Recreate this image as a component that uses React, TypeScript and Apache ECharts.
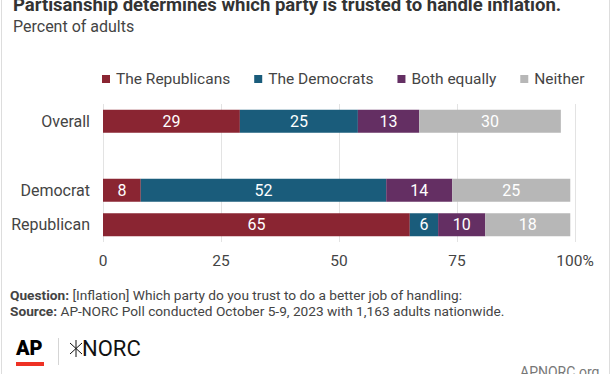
import React, { useEffect, useRef } from "react";
import * as echarts from "echarts";

const categories = ["Overall", "", "Democrat", "Republican"];
const seriesNames = ["The Republicans", "The Democrats", "Both equally", "Neither"];
const republicans: (number | string)[] = [29, "-", 8, 65];
const democrats: (number | string)[] = [25, "-", 52, 6];
const bothEqually: (number | string)[] = [13, "-", 14, 10];
const neither: (number | string)[] = [30, "-", 25, 18];
const tickValues = [0, 25, 50, 75, 100];
const colors = ["#8A2532", "#1A5C7B", "#642F63", "#B7B7B7"];

const FONT = "Roboto, 'Noto Sans', sans-serif";

export default function App() {
  const ref = useRef<HTMLDivElement>(null);
  useEffect(() => {
    document.body.style.margin = "0";
    if (!ref.current) return;
    const chart = echarts.init(ref.current, undefined, { renderer: "svg" });
    const values = [republicans, democrats, bothEqually, neither];
    chart.setOption({
      animation: false,
      textStyle: { fontFamily: FONT },
      grid: { left: 103, right: 37, top: 104, bottom: 132, containLabel: false },
      legend: {
        data: seriesNames,
        left: 97,
        top: 66,
        itemWidth: 8,
        itemHeight: 8,
        itemGap: 24,
        icon: "rect",
        textStyle: { color: "#444", fontSize: 15.5, fontFamily: FONT, padding: [0, 0, 0, 1] },
      },
      xAxis: {
        type: "value",
        min: 0,
        max: 100,
        interval: 25,
        axisLine: { show: false },
        axisTick: { show: false },
        splitLine: { show: true, lineStyle: { color: "#E3E3E3", width: 1 } },
        axisLabel: {
          color: "#444",
          fontSize: 15.5,
          margin: 11,
          fontFamily: FONT,
          formatter: (v: number) => (v === 100 ? "100%" : String(v)),
          customValues: tickValues,
        },
      },
      yAxis: {
        type: "category",
        data: categories,
        inverse: true,
        axisLine: { show: false },
        axisTick: { show: false },
        splitLine: { show: false },
        axisLabel: { color: "#444", fontSize: 16, margin: 13, fontFamily: FONT },
      },
      series: seriesNames.map((name, i) => ({
        name,
        type: "bar",
        stack: "total",
        data: values[i],
        barWidth: 23,
        itemStyle: { color: colors[i] },
        label: {
          show: true,
          position: "inside",
          color: "#fff",
          fontSize: 16,
          fontFamily: FONT,
        },
      })),
      graphic: [
        {
          type: "rect",
          shape: { x: 1.5, y: -10, width: 608, height: 400 },
          style: { fill: "none", stroke: "#DDDDDD", lineWidth: 1 },
          silent: true,
        },
        {
          type: "text",
          left: 13,
          top: -5,
          style: {
            text: "Partisanship determines which party is trusted to handle inflation.",
            font: `bold 18.5px ${FONT}`,
            fill: "#333",
          },
        },
        {
          type: "text",
          left: 13,
          top: 18,
          style: { text: "Percent of adults", font: `16px ${FONT}`, fill: "#444" },
        },
        {
          type: "text",
          left: 10,
          top: 287,
          style: {
            text:
              "{b|Question:} [Inflation] Which party do you trust to do a better job of handling:\n{b|Source:} AP-NORC Poll conducted October 5-9, 2023 with 1,163 adults nationwide.",
            font: `13.7px ${FONT}`,
            fill: "#444",
            lineHeight: 16,
            rich: {
              b: { fontWeight: "bold", fontSize: 13.7, fontFamily: FONT, fill: "#444", lineHeight: 16 },
            },
          },
        },
        {
          type: "text",
          left: 16,
          top: 338,
          style: { text: "AP", font: `900 20px ${FONT}`, fill: "#000" },
        },
        {
          type: "rect",
          shape: { x: 16, y: 362, width: 28, height: 4 },
          style: { fill: "#EE3124" },
        },
        {
          type: "rect",
          shape: { x: 58, y: 338, width: 1, height: 27 },
          style: { fill: "#D5D5D5" },
        },
        {
          type: "group",
          children: [
            { type: "line", shape: { x1: 76, y1: 340, x2: 76, y2: 357 }, style: { stroke: "#111", lineWidth: 1 } },
            { type: "line", shape: { x1: 70, y1: 343, x2: 82, y2: 354 }, style: { stroke: "#111", lineWidth: 1 } },
            { type: "line", shape: { x1: 70, y1: 354, x2: 82, y2: 343 }, style: { stroke: "#111", lineWidth: 1 } },
          ],
        },
        {
          type: "text",
          left: 82,
          top: 337,
          style: { text: "NORC", font: `22px ${FONT}`, fill: "#111" },
        },
        {
          type: "text",
          left: 520,
          top: 365,
          style: { text: "APNORC.org", font: `14px ${FONT}`, fill: "#777" },
        },
      ],
    });
    return () => chart.dispose();
  }, []);
  return <div ref={ref} style={{ width: 612, height: 374 }} />;
}
